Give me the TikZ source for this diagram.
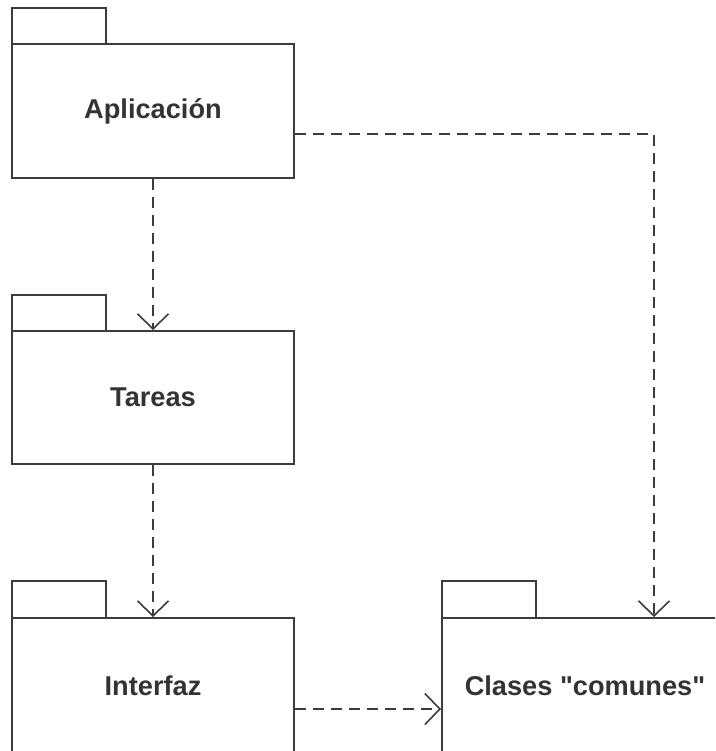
\documentclass[tikz,border=0pt]{standalone}
\usepackage{fontspec}
\setmainfont{Liberation Sans}[Ligatures=TeXOff]
\usetikzlibrary{arrows.meta,calc}
\definecolor{linegray}{HTML}{3C3C3C}
\definecolor{textgray}{HTML}{333333}
\begin{document}
\begin{tikzpicture}[x=1pt,y=-1pt,
  pkgbody/.style={draw=linegray, line width=2pt, fill=white, rectangle, inner sep=0pt,
     font=\fontsize{27.2}{31}\selectfont\bfseries, text=textgray},
  pkgtab/.style={draw=linegray, line width=2pt},
  dep/.style={draw=linegray, line width=1.6pt, dash pattern=on 11pt off 7pt,
     -{Straight Barb[length=15pt,width=31pt,line width=1.6pt]}}]
\useasboundingbox (0,0) rectangle (715,751);
\begin{scope}
\clip (0,0) rectangle (715,751);
% Aplicacion
\draw[pkgtab] (12,44) rectangle (106,8);
\node[pkgbody, minimum width=282pt, minimum height=134pt] (apl) at (153,111) {Aplicación};
% Tareas
\draw[pkgtab] (12,331) rectangle (106,295);
\node[pkgbody, minimum width=282pt, minimum height=133pt] (tar) at (153,397.5) {Tareas};
% Interfaz
\draw[pkgtab] (12,618) rectangle (106,581);
\node[pkgbody, minimum width=282pt, minimum height=136pt] (int) at (153,686) {Interfaz};
% Clases comunes
\draw[pkgtab] (442,618) rectangle (536,581);
\node[pkgbody, minimum width=286pt, minimum height=136pt] (cls) at (585,686) {Clases "comunes"};
% connectors
\draw[dep] (apl.south) -- (tar.north);
\draw[dep] (tar.south) -- (int.north);
\coordinate (a1) at ([yshift=-23pt]apl.east);
\coordinate (c1) at ([xshift=69pt]cls.north);
\draw[dep] (a1) -| (c1);
\draw[dep] ([yshift=-23pt]int.east) -- ([yshift=-23pt]cls.west);
\end{scope}
\end{tikzpicture}
\end{document}
